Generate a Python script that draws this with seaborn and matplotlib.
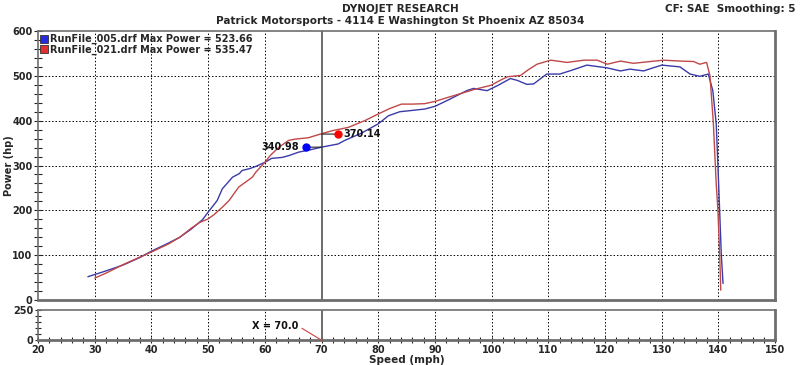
import numpy as np
import pandas as pd
import seaborn as sns
import matplotlib.pyplot as plt
from matplotlib.lines import Line2D
from matplotlib.ticker import MultipleLocator
import matplotlib.transforms as mtransforms

# === data ===
speed_005 = [28.8, 32, 35, 38, 40, 43, 45, 47, 49, 50, 51.6, 52.5, 54.3, 55.5, 56, 57.3,
             58.4, 60, 61.2, 63, 64.2, 66, 68, 70, 72.9, 74.1, 77, 80, 81.8, 83.8, 85.3,
             88.2, 90, 92.3, 95.6, 96.8, 99.2, 101, 103.3, 104.5, 106.2, 107.4, 109.7, 112,
             114, 116.8, 118.5, 120.3, 122.7, 124.4, 126.8, 128.5, 130, 133.2, 135, 136.7,
             138.2, 139, 139.6, 139.9, 140.2, 140.5, 140.8]
power_005 = [52, 65, 78, 95, 109, 127, 140, 158, 179, 196, 222, 248, 274, 282, 289, 293,
             298, 307, 316, 318, 322, 330, 335, 341, 348, 356, 372, 393, 411, 420, 422,
             426, 432, 446, 467, 472, 467, 478, 494, 490, 481, 482, 504, 504,
             512, 524, 521, 518, 511, 515, 511, 518, 524, 520, 504, 499,
             504, 467, 393, 300, 200, 100, 37]

speed_021 = [30, 32, 35, 38, 40, 43, 45, 47, 48.5, 50, 51, 52.5, 53.7, 55.4, 57.8, 58.4,
             60, 61, 62.5, 64.2, 65.4, 67.7, 70, 72, 74.7, 77.6, 80, 82, 84.1, 86, 88.2,
             90, 92.3, 95.2, 97, 99.9, 101.5, 102.8, 105.1, 106.5, 108, 110.4, 113.3, 116.3,
             118.6, 120.4, 122.7, 125, 128, 130.3, 133.2, 135.6, 136.7, 137.9, 138.5, 139.1,
             139.6, 139.9, 140.2, 140.4]
power_021 = [49, 60, 79, 96, 107, 125, 140, 160, 173, 181, 190, 207, 222, 252, 274, 285,
             307, 323, 341, 356, 359, 362, 371, 378, 385, 400, 415, 427, 437, 437, 438,
             443, 452, 463, 470, 479, 490, 498, 501, 514, 526, 535, 530, 535,
             535, 526, 533, 528, 532, 535, 533, 532, 526, 530, 500, 393,
             259, 200, 104, 22]

run_labels = ["RunFile_005.drf Max Power = 523.66", "RunFile_021.drf Max Power = 535.47"]
cursor_x = 70
cursor_vals = [340.98, 370.14]

blue = "#3a3aa8"
red = "#c04848"

sns.set_style("white")
plt.rcParams["font.family"] = ["DejaVu Sans"]
plt.rcParams["font.weight"] = "bold"

df = pd.concat([
    pd.DataFrame({"speed": speed_005, "power": power_005, "run": "005"}),
    pd.DataFrame({"speed": speed_021, "power": power_021, "run": "021"}),
])

fig = plt.figure(figsize=(8, 3.65), dpi=100)
ax = fig.add_axes([0.0475, 0.178, 0.9215, 0.737])
ax2 = fig.add_axes([0.0475, 0.068, 0.9215, 0.083], sharex=ax)

sns.lineplot(data=df, x="speed", y="power", hue="run", palette=[blue, red],
             sort=False, estimator=None, lw=1.0, legend=False, ax=ax)

ax.set_xlim(20, 150)
ax.set_ylim(0, 600)
ax2.set_ylim(0, 250)

# grids
grid_kw = dict(color="black", lw=0.7, ls=(0, (1.5, 2)))
for a in (ax, ax2):
    for x in range(30, 150, 10):
        if x != cursor_x:
            a.axvline(x, zorder=0, **grid_kw)
    a.axvline(cursor_x, color="#6a6a6a", lw=1.4, zorder=1)
    for name, s in a.spines.items():
        s.set_color("#6e6e6e")
        s.set_linewidth(2.0 if name in ("bottom", "right") else 1.2)
for y in range(100, 600, 100):
    ax.axhline(y, zorder=0, **grid_kw)

# ticks
ax.yaxis.set_major_locator(MultipleLocator(100))
ax.yaxis.set_minor_locator(MultipleLocator(20))
ax.tick_params(axis="y", which="both", direction="inout", length=6, width=0.8,
               left=True, labelsize=7, pad=1)
ax.tick_params(axis="x", which="both", bottom=False, labelbottom=False)
ax2.set_yticks([0, 250])
ax2.yaxis.set_minor_locator(MultipleLocator(50))
ax2.tick_params(axis="y", which="both", direction="inout", length=5, width=0.8,
                left=True, labelsize=7, pad=1)
ax2.xaxis.set_major_locator(MultipleLocator(10))
ax2.xaxis.set_minor_locator(MultipleLocator(2))
ax2.tick_params(axis="x", which="both", direction="inout", length=5, width=0.8,
                bottom=True, labelsize=7, pad=1)
ax2.set_xlim(20, 150)

ax.set_xlabel("")
ax.set_ylabel("Power (hp)", fontsize=7, fontweight="bold")
ax.yaxis.set_label_coords(-0.033, 0.5)
ax2.set_ylabel("")
ax2.set_xlabel("Speed (mph)", fontsize=7.5, fontweight="bold", labelpad=0)

# cursor readouts at 70 mph
for val, col, side in zip(cursor_vals, ["blue", "red"], [-1, 1]):
    off = mtransforms.offset_copy(ax.transData, fig=fig, x=side * 11.5, y=0, units="points")
    ax.annotate("", xy=(cursor_x, val), xytext=(side * 11.5, 0), textcoords="offset points",
                arrowprops=dict(arrowstyle="-", color="#222222", lw=0.8, shrinkA=0, shrinkB=0))
    ax.plot([cursor_x], [val], "o", color=col, ms=5, transform=off, zorder=5)
    ax.annotate(f"{val:.2f}", xy=(cursor_x, val), xytext=(side * 16, 0),
                textcoords="offset points", ha="left" if side > 0 else "right",
                va="center", fontsize=7, fontweight="bold", color="#111111")

# X = 70.0 marker in lower strip
ax2.annotate(f"X = {cursor_x:.1f}", xy=(cursor_x, 0), xytext=(-16.5, 10),
             textcoords="offset points", ha="right", va="center", fontsize=7,
             fontweight="bold", color="#111111",
             arrowprops=dict(arrowstyle="-", color="#d04040", lw=0.8,
                             shrinkA=0, shrinkB=0, relpos=(1, 0.5)))

# legend
handles = [Line2D([], [], ls="", marker="s", ms=6, mfc=c, mec="#333333", mew=0.6)
           for c in ["#2a2ae0", "#e03030"]]
ax.legend(handles, run_labels, loc="upper left", frameon=False, borderaxespad=0.1,
          borderpad=0.2, handlelength=0.6, handletextpad=0.3, labelspacing=0.05,
          prop=dict(size=7, weight="bold"))

# header
fig.text(0.5, 0.975, "DYNOJET RESEARCH", ha="center", va="center", fontsize=7.5,
         fontweight="bold")
fig.text(0.5, 0.943, "Patrick Motorsports - 4114 E Washington St Phoenix AZ 85034",
         ha="center", va="center", fontsize=7.5, fontweight="bold")
fig.text(0.994, 0.975, "CF: SAE  Smoothing: 5", ha="right", va="center", fontsize=7.5,
         fontweight="bold")

fig.savefig("out.png", dpi=100)
